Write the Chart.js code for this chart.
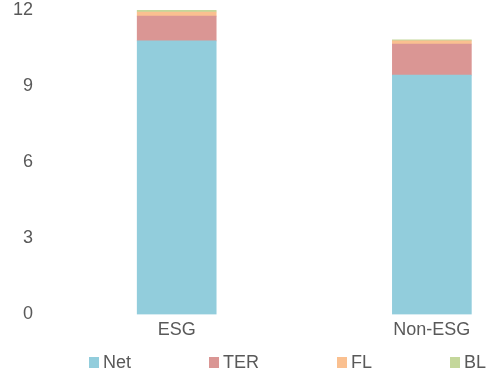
<!DOCTYPE html>
<html lang="en">
<head>
<meta charset="UTF-8">
<title>ESG vs Non-ESG</title>
<script src="https://cdn.jsdelivr.net/npm/chart.js"></script>
<style>
  html, body { margin: 0; padding: 0; background: #fff; }
  #wrap { width: 488px; height: 378px; }
</style>
</head>
<body>
<div id="wrap"><canvas id="chart" width="488" height="378"></canvas></div>
<script>
const categories = ['ESG', 'Non-ESG']
const seriesNames = ['Net', 'TER', 'FL', 'BL']
const netValues = [10.78, 9.43]
const terValues = [0.98, 1.23]
const flValues = [0.16, 0.12]
const blValues = [0.07, 0.04]
const yTicks = [0, 3, 6, 9, 12]

const colors = ['#92CDDC', '#DA9694', '#FAC090', '#C4D79B']
const textColor = '#595959'
const fontFamily = '"Liberation Sans", Arial, sans-serif'

const toPoints = (vals) => vals.map((v, i) => ({ x: i, y: v }))

// legend drawn by hand so the spacing matches the original
const legendPlugin = {
  id: 'flatLegend',
  afterDraw(chart) {
    const ctx = chart.ctx
    ctx.save()
    ctx.font = '18px ' + fontFamily
    ctx.textBaseline = 'middle'
    let x = 89
    chart.data.datasets.forEach((ds) => {
      ctx.fillStyle = ds.backgroundColor
      ctx.fillRect(x, 357, 10, 11)
      ctx.fillStyle = textColor
      ctx.fillText(ds.label, x + 14, 363)
      x += 14 + ctx.measureText(ds.label).width + 78
    })
    ctx.restore()
  },
}

const allSeries = [netValues, terValues, flValues, blValues]

new Chart(document.getElementById('chart'), {
  type: 'bar',
  data: {
    datasets: allSeries.map((vals, i) => ({
      label: seriesNames[i],
      data: toPoints(vals),
      backgroundColor: colors[i],
      borderWidth: 0,
      barThickness: 79,
    })),
  },
  options: {
    responsive: false,
    animation: false,
    layout: { autoPadding: false, padding: { left: 1, right: 0, top: 10, bottom: 32 } },
    plugins: {
      legend: { display: false },
      tooltip: { enabled: false },
    },
    scales: {
      x: {
        type: 'linear',
        stacked: true,
        offset: false,
        min: -0.516,
        max: 1.22,
        grid: { display: false, drawTicks: false },
        border: { display: false },
        afterBuildTicks: (scale) => {
          scale.ticks = categories.map((_, i) => ({ value: i }))
        },
        ticks: {
          padding: 5,
          color: textColor,
          font: { size: 18, family: fontFamily },
          callback: (v) => categories[v],
        },
      },
      y: {
        stacked: true,
        min: 0,
        max: 12,
        grid: { display: false, drawTicks: false },
        border: { display: false },
        afterBuildTicks: (scale) => {
          scale.ticks = yTicks.map((v) => ({ value: v }))
        },
        // the tick padding otherwise pushes the plot top down
        afterFit: (scale) => {
          scale.paddingTop = 0
        },
        ticks: {
          padding: 12,
          color: textColor,
          font: { size: 18, family: fontFamily },
        },
      },
    },
  },
  plugins: [legendPlugin],
})
</script>
</body>
</html>
